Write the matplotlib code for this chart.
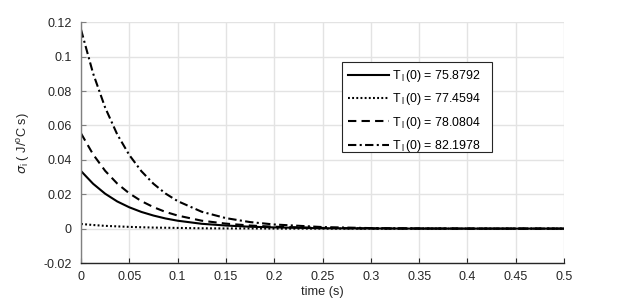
import matplotlib
matplotlib.use("Agg")
import matplotlib.pyplot as plt
from matplotlib.patches import Rectangle

plt.rcParams['font.family'] = ['Liberation Sans', 'DejaVu Sans']
plt.rcParams['mathtext.fontset'] = 'custom'
plt.rcParams['mathtext.rm'] = 'Liberation Sans'
plt.rcParams['mathtext.it'] = 'DejaVu Sans:italic'
plt.rcParams['mathtext.cal'] = 'Liberation Sans'

# time samples (s)
t = [0, 0.0125, 0.025, 0.0375, 0.05, 0.0625, 0.075, 0.0875, 0.1, 0.125,
     0.15, 0.175, 0.2, 0.25, 0.3, 0.35, 0.4, 0.45, 0.5]

# sigma_i series (J/oC s)
s_75 = [0.0335, 0.0261, 0.0203, 0.0158, 0.0124, 0.0097, 0.0076, 0.0059, 0.0046, 0.0028,
        0.0018, 0.0011, 0.0007, 0.0002, 0.0001, 0, 0, 0, 0]
s_77 = [0.0027, 0.0021, 0.0016, 0.0013, 0.0010, 0.0008, 0.0006, 0.0005, 0.0004, 0.0002,
        0.0001, 0.0001, 0, 0, 0, 0, 0, 0, 0]
s_78 = [0.0554, 0.0432, 0.0336, 0.0262, 0.0205, 0.0160, 0.0125, 0.0097, 0.0076, 0.0046,
        0.0029, 0.0018, 0.0011, 0.0004, 0.0001, 0.0001, 0, 0, 0]
s_82 = [0.1158, 0.0903, 0.0704, 0.0548, 0.0428, 0.0334, 0.0261, 0.0204, 0.0160, 0.0098,
        0.0061, 0.0038, 0.0024, 0.0009, 0.0003, 0.0001, 0, 0, 0]

labels = ['75.8792', '77.4594', '78.0804', '82.1978']
xticks = [0, 0.05, 0.1, 0.15, 0.2, 0.25, 0.3, 0.35, 0.4, 0.45, 0.5]
xtick_labels = ['0', '0.05', '0.1', '0.15', '0.2', '0.25', '0.3', '0.35', '0.4', '0.45', '0.5']
yticks = [-0.02, 0, 0.02, 0.04, 0.06, 0.08, 0.1, 0.12]
ytick_labels = ['-0.02', '0', '0.02', '0.04', '0.06', '0.08', '0.1', '0.12']

W, H = 623, 303
fig = plt.figure(figsize=(W/100, H/100), dpi=100)
ax_l, ax_r, ax_t, ax_b = 81, 564, 22.3, 263
ax = fig.add_axes([ax_l/W, 1-ax_b/H, (ax_r-ax_l)/W, (ax_b-ax_t)/H])

lw = 1.5
styles = [dict(linestyle='-'),
          dict(linestyle=(0, (0.9, 1.1))),
          dict(linestyle=(0, (4, 2.5))),
          dict(linestyle=(0, (4, 1.6, 1, 1.6)))]
series = [s_75, s_77, s_78, s_82]
for s, lab, st in zip(series, labels, styles):
    ax.plot(t, s, color='black', lw=lw,
            label=r'T$_{\,\mathrm{l}}\,$(0) = ' + lab, **st)

ax.set_xlim(0, 0.5)
ax.set_ylim(-0.02, 0.12)
ax.set_xticks(xticks)
ax.set_xticklabels(xtick_labels)
ax.set_yticks(yticks)
ax.set_yticklabels(ytick_labels)
ax.grid(True, color='#e3e3e3', lw=1.0)
ax.set_axisbelow(True)
for sp in ['top', 'right']:
    ax.spines[sp].set_visible(False)
ax.spines['left'].set_color('#808080')
ax.spines['bottom'].set_color('#262626')
ax.spines['left'].set_linewidth(1.0)
ax.spines['bottom'].set_linewidth(1.0)
ax.tick_params(direction='in', length=3.5, width=0.8, labelsize=9,
               colors='#262626', pad=6)
ax.tick_params(axis='y', colors='#808080', labelcolor='#262626', pad=6.5)

ax.set_xlabel('time (s)', fontsize=9.2, color='#262626', labelpad=2)
ax.set_ylabel(r'$\sigma_{\mathrm{i}}$ ( J/$^{\mathrm{o}}$C s)', fontsize=9.2,
              color='#262626', labelpad=8)

# legend box (MATLAB style, extra right padding)
bx0, bx1, by0, by1 = 341.7, 492.3, 61.7, 152.3
aw, ah = ax_r - ax_l, ax_b - ax_t
box = Rectangle(((bx0-ax_l)/aw, (ax_b-by1)/ah), (bx1-bx0)/aw, (by1-by0)/ah,
                transform=ax.transAxes, facecolor='white', edgecolor='#262626',
                lw=0.8, zorder=4, clip_on=False)
ax.add_patch(box)

leg = ax.legend(loc='upper left', bbox_to_anchor=((bx0-ax_l)/aw, (ax_b-by0)/ah),
                fontsize=8.9, frameon=False, handlelength=3.3, handletextpad=0.3,
                borderpad=0.5, labelspacing=0.6, borderaxespad=0)
leg.set_zorder(5)

fig.savefig('out.png', dpi=100)
